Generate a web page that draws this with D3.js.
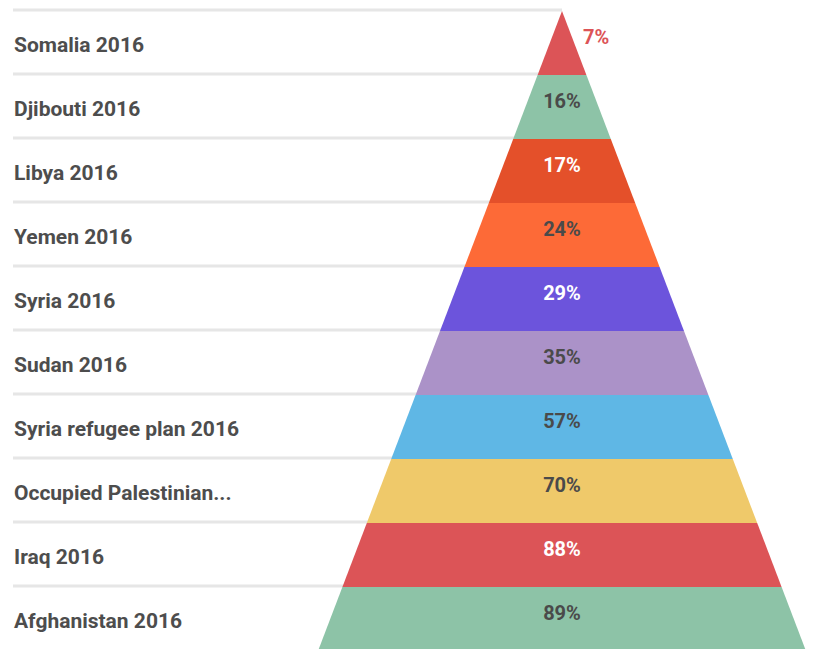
<!DOCTYPE html>
<meta charset="utf-8">
<head>
<style>
body { margin: 0; background: #fff; font-family: Roboto, Arial, sans-serif; }
.grid line { stroke: #e6e6e6; stroke-width: 3; }
.name { font-size: 21px; font-weight: 700; fill: #4d4d4d; }
.pct { font-size: 20px; font-weight: 700; text-anchor: middle; }
</style>
</head>
<body>
<script src="https://cdnjs.cloudflare.com/ajax/libs/d3/7.8.5/d3.min.js"></script>
<script>

// data, top to bottom
var names = ["Somalia 2016", "Djibouti 2016", "Libya 2016", "Yemen 2016", "Syria 2016",
             "Sudan 2016", "Syria refugee plan 2016", "Occupied Palestinian...", "Iraq 2016", "Afghanistan 2016"];
var values = [7, 16, 17, 24, 29, 35, 57, 70, 88, 89];
var colors = ["#dc5457", "#8dc3a7", "#e4502a", "#fd6a37", "#6c54dc",
              "#ab92c8", "#5fb7e5", "#efc96a", "#dc5457", "#8dc3a7"];
var textColors = ["#dc5457", "#4a4a4a", "#ffffff", "#4a4a4a", "#ffffff",
                  "#4a4a4a", "#4a4a4a", "#4a4a4a", "#ffffff", "#4a4a4a"];

var width = 817, height = 649;
var top0 = 11, bottom0 = 651, cx = 562, halfMax = 244;

var svg = d3.select("body").append("svg")
    .attr("width", width)
    .attr("height", height);

// one band per layer
var y = d3.scaleBand()
    .domain(names)
    .range([top0, bottom0]);

// half width of the pyramid at a given y
var w = d3.scaleLinear()
    .domain([top0, bottom0])
    .range([0, halfMax]);

// separator lines (run under the pyramid)
svg.append("g").attr("class", "grid")
  .selectAll("line")
  .data(names)
  .enter().append("line")
    .attr("x1", 13)
    .attr("x2", cx)
    .attr("y1", function(d) { return y(d) - 1; })
    .attr("y2", function(d) { return y(d) - 1; });

// left labels
svg.selectAll(".name")
  .data(names)
  .enter().append("text")
    .attr("class", "name")
    .attr("x", 14)
    .attr("y", function(d) { return y(d) + y.bandwidth() / 2 + 9; })
    .text(function(d) { return d; });

// pyramid slices
svg.selectAll(".slice")
  .data(names)
  .enter().append("path")
    .attr("class", "slice")
    .attr("fill", function(d, i) { return colors[i]; })
    .attr("d", function(d) {
      var a = y(d), b = a + y.bandwidth();
      return "M" + (cx - w(a)) + "," + a + "L" + (cx + w(a)) + "," + a +
             "L" + (cx + w(b)) + "," + b + "L" + (cx - w(b)) + "," + b + "Z";
    });

// percent labels; the top one sits outside, to the right
svg.selectAll(".pct")
  .data(names)
  .enter().append("text")
    .attr("class", "pct")
    .attr("fill", function(d, i) { return textColors[i]; })
    .attr("x", function(d, i) {
      if (i == 0) return cx + w(y(d) + y.bandwidth() / 2) + 22;
      return cx;
    })
    .attr("y", function(d) { return y(d) + 33; })
    .text(function(d, i) { return values[i] + "%"; });

</script>
</body>
